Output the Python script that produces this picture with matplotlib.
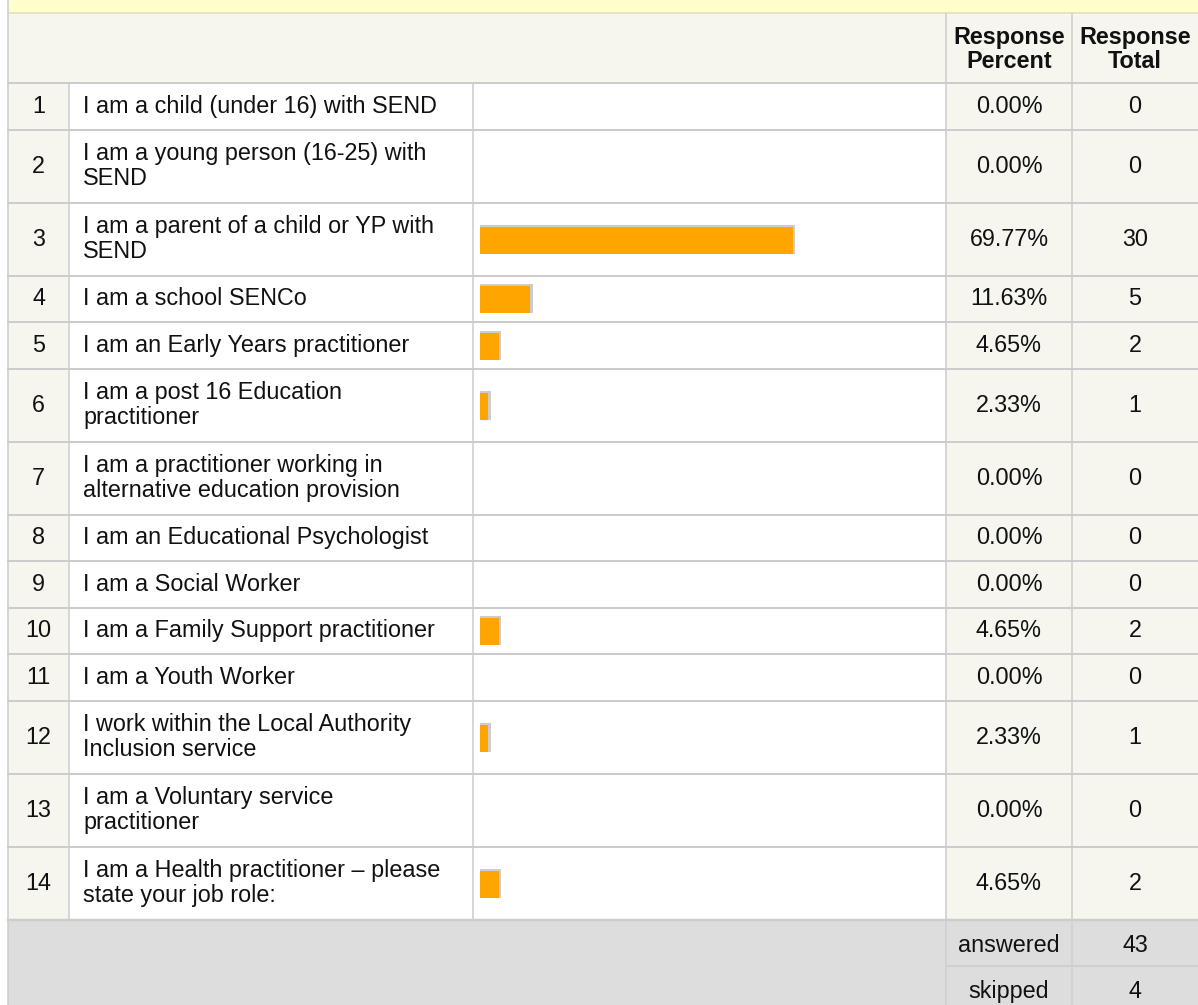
import matplotlib.pyplot as plt
from matplotlib.patches import Rectangle

# data
numbers = list(range(1, 15))
labels = [
    "I am a child (under 16) with SEND",
    "I am a young person (16-25) with\nSEND",
    "I am a parent of a child or YP with\nSEND",
    "I am a school SENCo",
    "I am an Early Years practitioner",
    "I am a post 16 Education\npractitioner",
    "I am a practitioner working in\nalternative education provision",
    "I am an Educational Psychologist",
    "I am a Social Worker",
    "I am a Family Support practitioner",
    "I am a Youth Worker",
    "I work within the Local Authority\nInclusion service",
    "I am a Voluntary service\npractitioner",
    "I am a Health practitioner \u2013 please\nstate your job role:",
]
percents = [0.00, 0.00, 69.77, 11.63, 4.65, 2.33, 0.00, 0.00, 0.00, 4.65, 0.00, 2.33, 0.00, 4.65]
totals = [0, 0, 30, 5, 2, 1, 0, 0, 0, 2, 0, 1, 0, 2]
header = ["Response\nPercent", "Response\nTotal"]
summary_labels = ["answered", "skipped"]
summary_values = [43, 4]

W, H = 1198, 1005
plt.rcParams['font.family'] = ['Liberation Sans', 'DejaVu Sans']

fig = plt.figure(figsize=(W / 100, H / 100), dpi=100)
ax = fig.add_axes([0, 0, 1, 1])
ax.set_xlim(0, W)
ax.set_ylim(H, 0)
ax.axis('off')

# column edges
x_left, x_num, x_lab, x_bar, x_pct, x_right = 8, 69, 473, 946, 1072, 1198
cream = '#f6f6ef'
line = '#cccccc'
fs = 16.8
txt = '#111111'
lw = 1.1

# yellow band on top
ax.add_patch(Rectangle((x_left, 0), W - x_left, 13, fc='#ffffcc', ec='none'))
ax.plot([x_left, W], [13, 13], color='#dcdcc0', lw=lw)

# header
y_head, y0 = 14, 83
ax.add_patch(Rectangle((x_left, y_head), W - x_left, y0 - y_head, fc=cream, ec='none'))
for xc, t in zip([(x_bar + x_pct) / 2, (x_pct + x_right) / 2], header):
    ax.text(xc, (y_head + y0) / 2 + 1, t, ha='center', va='center', fontsize=fs,
            fontweight='bold', color=txt, linespacing=1.1)
for xv in [x_bar, x_pct]:
    ax.plot([xv, xv], [y_head, y0], color=line, lw=lw)

# rows
scale = 4.52
y = y0
for n, lab, p, t in zip(numbers, labels, percents, totals):
    h = 73 if '\n' in lab else 46.5
    ax.add_patch(Rectangle((x_left, y), x_num - x_left, h, fc=cream, ec='none'))
    ax.add_patch(Rectangle((x_bar, y), x_right - x_bar, h, fc=cream, ec='none'))
    yc = y + h / 2
    ax.text((x_left + x_num) / 2, yc, str(n), ha='center', va='center', fontsize=fs, color=txt)
    ax.text(83, yc, lab, ha='left', va='center', fontsize=fs, color=txt, linespacing=1.12)
    ax.text((x_bar + x_pct) / 2, yc, f"{p:.2f}%", ha='center', va='center', fontsize=fs, color=txt)
    ax.text((x_pct + x_right) / 2, yc, str(t), ha='center', va='center', fontsize=fs, color=txt)
    if p > 0:
        w = scale * p
        ax.add_patch(Rectangle((480, yc - 14.5), w, 29, fc='#cccccc', ec='none'))
        ax.add_patch(Rectangle((480, yc - 12.5), w - 2.5, 27, fc='#ffa500', ec='none'))
    ax.plot([x_left, W], [y, y], color=line, lw=lw * 1.3)
    for xv in [x_num, x_lab, x_bar, x_pct]:
        ax.plot([xv, xv], [y, y + h], color=line, lw=lw)
    y += h

# summary rows
ax.add_patch(Rectangle((x_left, y), W - x_left, H - y, fc='#dddddd', ec='none'))
ax.plot([x_left, W], [y, y], color=line, lw=lw * 1.6)
hs = 46
for k, (sl, sv) in enumerate(zip(summary_labels, summary_values)):
    ys = y + k * hs
    ax.text((x_bar + x_pct) / 2, ys + hs / 2 + 3, sl, ha='center', va='center', fontsize=fs, color=txt)
    ax.text((x_pct + x_right) / 2, ys + hs / 2 + 3, str(sv), ha='center', va='center', fontsize=fs, color=txt)
    if k > 0:
        ax.plot([x_bar, W], [ys, ys], color='#cfcfcf', lw=lw * 1.3)
for xv in [x_bar, x_pct]:
    ax.plot([xv, xv], [y, H], color='#cfcfcf', lw=lw)

# left border
ax.plot([x_left, x_left], [0, H], color=line, lw=lw)

fig.savefig('out.png', dpi=100)
